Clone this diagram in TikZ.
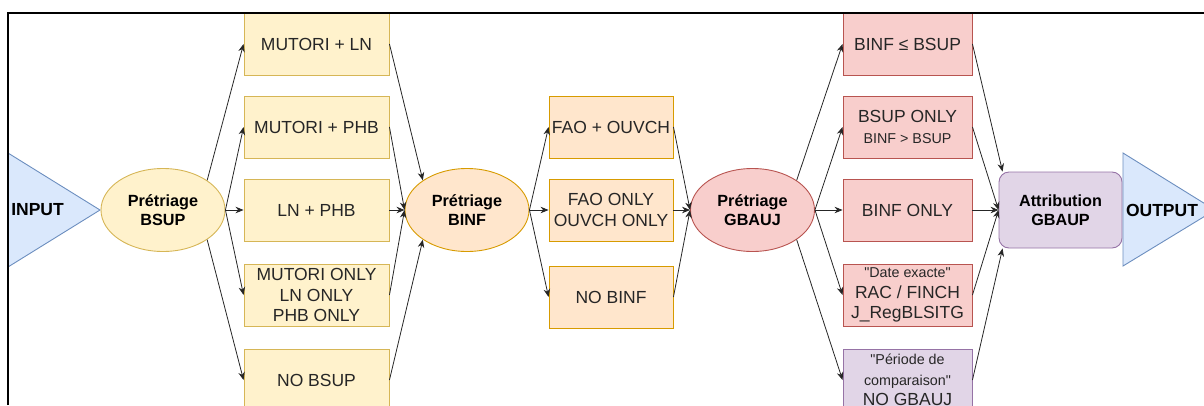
\documentclass[tikz,border=0pt]{standalone}
\usepackage{fontspec}
\setmainfont{Liberation Sans}[Ligatures=TeXOff]
\usetikzlibrary{arrows.meta,shapes.geometric}
\definecolor{yelfill}{HTML}{FFF2CC}
\definecolor{yeldraw}{HTML}{D6B656}
\definecolor{orafill}{HTML}{FFE6CC}
\definecolor{oradraw}{HTML}{D79B00}
\definecolor{redfill}{HTML}{F8CECC}
\definecolor{reddraw}{HTML}{B85450}
\definecolor{purfill}{HTML}{E1D5E7}
\definecolor{purdraw}{HTML}{9673A6}
\definecolor{blufill}{HTML}{DAE8FC}
\definecolor{bludraw}{HTML}{6C8EBF}
\newcommand{\smtxt}{\fontsize{14.3}{20.5}\selectfont}

\begin{document}
\begin{tikzpicture}[x=1pt,y=1pt,node distance=83pt,>={Stealth[length=8pt,width=6.5pt]},
  font=\fontsize{17.5}{20.5}\selectfont,
  box/.style={draw,line width=0.9pt,minimum height=62pt,inner sep=1pt,align=center,text=black!85},
  ybox/.style={box,fill=yelfill,draw=yeldraw,minimum width=145pt},
  obox/.style={box,fill=orafill,draw=oradraw,minimum width=124pt},
  rbox/.style={box,fill=redfill,draw=reddraw,minimum width=129pt},
  pbox/.style={rbox,fill=purfill,draw=purdraw},
  bold/.style={font=\fontsize{17.5}{20.5}\selectfont\bfseries},
  ell/.style={ellipse,draw,line width=0.9pt,minimum width=124pt,minimum height=83pt,inner sep=0pt,align=center,font=\fontsize{16.2}{19.5}\selectfont\bfseries},
  link/.style={->,black!85,line width=0.8pt}]
  \useasboundingbox (0,0) rectangle (1204,-405);
  \clip (0,0) rectangle (1204,-405);
  % input / output triangles
  \filldraw[fill=blufill,draw=bludraw,line width=0.9pt] (8,-153) -- (100,-210) -- (8,-267) -- cycle;
  \node[bold] (input) at (37.5,-210) {INPUT};
  % BSUP stage
  \node[ell,fill=yelfill,draw=yeldraw] (bsup) at (163,-210) {Prétriage\\BSUP};
  \node[ybox, right of=bsup, xshift=70.5pt] (lnphb) {LN + PHB};
  \node[ybox, above of=lnphb] (mutphb) {MUTORI + PHB};
  \node[ybox, above of=mutphb] (mutln) {MUTORI + LN};
  \node[ybox, below of=lnphb, yshift=-2pt] (mutonly) {MUTORI ONLY\\LN ONLY\\PHB ONLY};
  \node[ybox, below of=mutonly, yshift=-2pt] (nobsup) {NO BSUP};
  % BINF stage
  \node[ell,fill=orafill,draw=oradraw, right of=lnphb, xshift=67.5pt] (binf) {Prétriage\\BINF};
  \node[obox, right of=binf, xshift=61pt] (faoonly) {FAO ONLY\\OUVCH ONLY};
  \node[obox, above of=faoonly] (faoouv) {FAO + OUVCH};
  \node[obox, below of=faoonly, yshift=-4pt] (nobinf) {NO BINF};
  % GBAUJ stage
  \node[ell,fill=redfill,draw=reddraw, right of=faoonly, xshift=58.5pt] (gbauj) {Prétriage\\GBAUJ};
  \node[rbox, right of=gbauj, xshift=72pt] (binfonly) {BINF ONLY};
  \node[rbox, above of=binfonly] (bsuponly) {BSUP ONLY\\{\smtxt BINF > BSUP}};
  \node[rbox, above of=bsuponly] (binfle) {BINF ≤ BSUP};
  \node[rbox, below of=binfonly, yshift=-2pt] (dateex) {{\smtxt "Date exacte"}\\RAC / FINCH\\J\_RegBLSITG};
  \node[pbox, below of=dateex, yshift=-2pt] (nogbauj) {{\smtxt "Période de}\\{\smtxt comparaison"}\\NO GBAUJ};
  % attribution
  \node[box, right of=binfonly, xshift=70pt, fill=purfill, draw=purdraw, rounded corners=10pt,
    minimum width=123pt, minimum height=76pt, text=black, font=\fontsize{16.2}{19.5}\selectfont\bfseries] (attr) {Attribution\\GBAUP};
  \filldraw[fill=blufill,draw=bludraw,line width=0.9pt] (1123,-153) -- (1215,-210) -- (1123,-266) -- cycle;
  \node[bold] (output) at (1162,-210) {OUTPUT};
  % connectors
  \draw[link] (bsup.north east) -- (mutln.west);
  \draw[link] (bsup.east) -- (mutphb.west);
  \draw[link] (bsup.east) -- (lnphb.west);
  \draw[link] (bsup.east) -- (mutonly.west);
  \draw[link] (bsup.south east) -- (nobsup.west);
  \draw[link] (mutln.east) -- (binf.north west);
  \draw[link] (mutphb.east) -- (binf.west);
  \draw[link] (lnphb.east) -- (binf.west);
  \draw[link] (mutonly.east) -- (binf.west);
  \draw[link] (nobsup.east) -- (binf.south west);
  \draw[link] (binf.east) -- (faoouv.west);
  \draw[link] (binf.east) -- (faoonly.west);
  \draw[link] (binf.east) -- (nobinf.west);
  \draw[link] (faoouv.east) -- (gbauj.west);
  \draw[link] (faoonly.east) -- (gbauj.west);
  \draw[link] (nobinf.east) -- (gbauj.west);
  \draw[link] (gbauj.north east) -- (binfle.west);
  \draw[link] (gbauj.east) -- (bsuponly.west);
  \draw[link] (gbauj.east) -- (binfonly.west);
  \draw[link] (gbauj.east) -- (dateex.west);
  \draw[link] (gbauj.south east) -- (nogbauj.west);
  \draw[link] (binfle.east) -- ([xshift=4pt]attr.north west);
  \draw[link] (bsuponly.east) -- (attr.west);
  \draw[link] (binfonly.east) -- (attr.west);
  \draw[link] (dateex.east) -- (attr.west);
  \draw[link] (nogbauj.east) -- ([xshift=4pt]attr.south west);
  % frame
  \draw[line width=2pt] (7.5,-405) -- (7.5,-12.5) -- (1204,-12.5);
\end{tikzpicture}
\end{document}
